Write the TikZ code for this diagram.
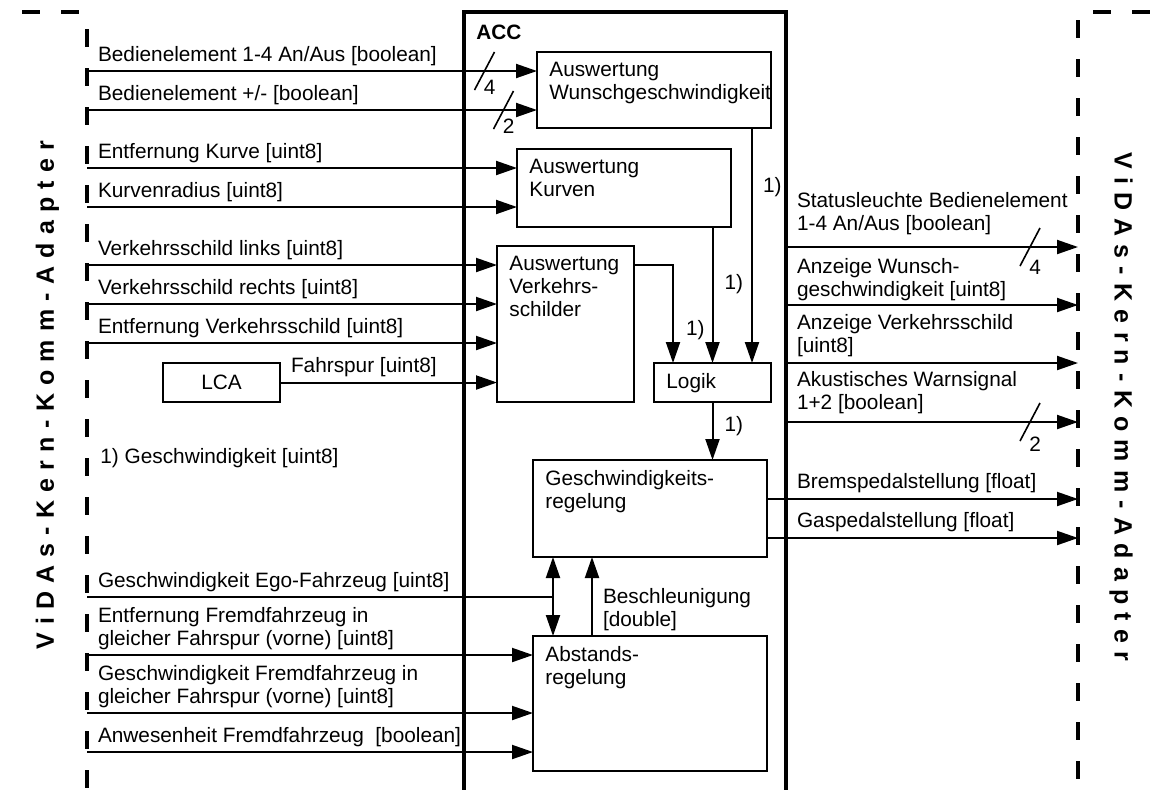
\documentclass[tikz,border=0pt]{standalone}
\usepackage{fontspec}
\setmainfont{Liberation Sans}
\newfontfamily\adapterfont[LetterSpace=33]{Liberation Sans}
\usetikzlibrary{positioning,arrows.meta}

\begin{document}
\begin{tikzpicture}[
    x=0.5pt, y=-0.5pt,
    font={\fontsize{10.4}{11.5}\selectfont},
    block/.style={draw,line width=1.1pt,anchor=north west,inner sep=0pt,outer sep=0pt},
    blocktxt/.style={anchor=north west,align=left,inner xsep=6pt,inner ysep=5pt},
    txt/.style={anchor=south west,align=left,inner sep=0pt,xshift=5pt,yshift=2.3pt},
    onelbl/.style={anchor=west,inner sep=0pt,xshift=5pt},
    slashnum/.style={anchor=south west,inner sep=0pt,xshift=4.25pt,yshift=-2.5pt},
    sig/.style={line width=1pt,-{Triangle[length=10.5pt,width=7pt]}},
    both/.style={line width=1pt,{Triangle[length=10.5pt,width=7pt]}-{Triangle[length=10.5pt,width=7pt]}},
    wire/.style={line width=1pt},
    bus/.style={line width=0.8pt},
    adapter/.style={line width=2pt,dash pattern=on 9pt off 10.5pt},
    adaptertxt/.style={font={\adapterfont\bfseries\fontsize{12.5}{14}\selectfont},inner sep=0pt},
]
    \useasboundingbox (0,0) rectangle (1156,789);

    % Adapter frames
    \draw[adapter] (22,12) -- (84,12);
    \draw[adapter] (87,29) -- (87,800);
    \draw[adapter] (1093,12) -- (1160,12);
    \draw[adapter] (1078,20) -- (1078,800);
    \node[adaptertxt,rotate=90]  (vidasleft)  at (47.5,395) {ViDAs-Kern-Komm-Adapter};
    \node[adaptertxt,rotate=-90] (vidasright) at (1121,407) {ViDAs-Kern-Komm-Adapter};

    % ACC frame
    \node[block,line width=2pt,minimum width=161pt,minimum height=400pt,
          label={[blocktxt,font={\fontsize{10.4}{11.5}\selectfont\bfseries},inner ysep=6.5pt]north west:ACC}] (acc) at (464,12) {};

    % Blocks
    \node[block,minimum width=117pt,minimum height=38pt,
          label={[blocktxt]north west:Auswertung\\Wunschgeschwindigkeit}] (wunsch) at (537,52) {};
    \node[block,minimum width=107pt,minimum height=39pt,
          label={[blocktxt]north west:Auswertung\\Kurven}] (kurven) at (517,149) {};
    \node[block,minimum width=68.5pt,minimum height=78pt,
          label={[blocktxt]north west:Auswertung\\Verkehrs-\\schilder}] (verkehr) at (497,246) {};
    \node[block,minimum width=58.5pt,minimum height=19.5pt,
          label={[blocktxt]north west:Logik}] (logik) at (654,363) {};
    \node[block,minimum width=117pt,minimum height=48.5pt,
          label={[blocktxt]north west:Geschwindigkeits-\\regelung}] (geschw) at (533,460) {};
    \node[block,minimum width=117pt,minimum height=67.5pt,
          label={[blocktxt]north west:Abstands-\\regelung}] (abstand) at (533,636) {};
    \node[block,minimum width=58.5pt,minimum height=19.5pt] (lca) at (163,363) {LCA};

    % Inputs
    \coordinate (in1)  at (87,71);
    \coordinate (in2)  at (87,110);
    \coordinate (in3)  at (87,168);
    \coordinate (in4)  at (87,207);
    \coordinate (in5)  at (87,265);
    \coordinate (in6)  at (87,304);
    \coordinate (in7)  at (87,343);
    \coordinate (in9)  at (87,597);
    \coordinate (in10) at (87,655);
    \coordinate (in11) at (87,713);
    \coordinate (in12) at (87,752);
    \coordinate (ego)  at ([xshift=10pt]geschw.south west);

    \draw[sig] (in1) -- (in1 -| wunsch.west) node[txt,pos=0] {Bedienelement 1-4 An/Aus [boolean]};
    \draw[sig] (in2) -- (in2 -| wunsch.west) node[txt,pos=0] {Bedienelement +/- [boolean]};
    \draw[sig] (in3) -- (in3 -| kurven.west) node[txt,pos=0] {Entfernung Kurve [uint8]};
    \draw[sig] (in4) -- (in4 -| kurven.west) node[txt,pos=0] {Kurvenradius [uint8]};
    \draw[sig] (in5) -- (in5 -| verkehr.west) node[txt,pos=0] {Verkehrsschild links [uint8]};
    \draw[sig] (in6) -- (in6 -| verkehr.west) node[txt,pos=0] {Verkehrsschild rechts [uint8]};
    \draw[sig] (in7) -- (in7 -| verkehr.west) node[txt,pos=0] {Entfernung Verkehrsschild [uint8]};
    \draw[sig] (lca.east) -- (lca.east -| verkehr.west) node[txt,pos=0] {Fahrspur [uint8]};
    \draw[wire] (in9) -- (in9 -| ego) node[txt,pos=0] {Geschwindigkeit Ego-Fahrzeug [uint8]};
    \draw[sig] (in10) -- (in10 -| abstand.west) node[txt,pos=0] {Entfernung Fremdfahrzeug in\\gleicher Fahrspur (vorne) [uint8]};
    \draw[sig] (in11) -- (in11 -| abstand.west) node[txt,pos=0] {Geschwindigkeit Fremdfahrzeug in\\gleicher Fahrspur (vorne) [uint8]};
    \draw[sig] (in12) -- (in12 -| abstand.west) node[txt,pos=0] {Anwesenheit Fremdfahrzeug~ [boolean]};

    % Bus markers
    \draw[bus] (484.5,71) ++(10,-19) -- ++(-20,38) node[slashnum] {4};
    \draw[bus] (503.5,110) ++(10,-19) -- ++(-20,38) node[slashnum] {2};
    \draw[bus] (1030,247) ++(10,-19) -- ++(-20,38) node[slashnum,yshift=-2pt] {4};
    \draw[bus] (1030,422) ++(10,-19) -- ++(-20,38) node[slashnum,yshift=-3pt] {2};

    % Internal connections
    \draw[sig] ([xshift=-9.5pt]wunsch.south east) -- ([xshift=-9.5pt]logik.north east) node[onelbl,pos=0.25] {1)};
    \draw[sig] (logik.north |- kurven.south) -- (logik.north) node[onelbl,pos=0.42,xshift=0.5pt] {1)};
    \draw[sig] ([yshift=-9.5pt]verkehr.north east) -| ([xshift=9.5pt]logik.north west) node[onelbl,pos=0.83,xshift=1pt] {1)};
    \draw[sig] (logik.south) -- (logik.south |- geschw.north) node[onelbl,pos=0.41,xshift=0.5pt] {1)};
    \draw[both] (ego) -- (ego |- abstand.north);
    \draw[sig] ([xshift=29.5pt]abstand.north west) -- ([xshift=29.5pt]geschw.south west) node[txt,pos=0] {Beschleunigung\\{[double]}};

    % Outputs
    \coordinate (out1) at (1078,247);
    \coordinate (out2) at (1078,305);
    \coordinate (out3) at (1078,363);
    \coordinate (out4) at (1078,422);
    \coordinate (out5) at (1078,499);
    \coordinate (out6) at (1078,538);

    \draw[sig] (out1 -| acc.east) -- (out1) node[txt,pos=0,yshift=3.5pt] {Statusleuchte Bedienelement\\1-4 An/Aus [boolean]};
    \draw[sig] (out2 -| acc.east) -- (out2) node[txt,pos=0,yshift=-0.5pt] {Anzeige Wunsch-\\geschwindigkeit [uint8]};
    \draw[sig] (out3 -| acc.east) -- (out3) node[txt,pos=0,yshift=0.5pt] {Anzeige Verkehrsschild\\{[uint8]}};
    \draw[sig] (out4 -| acc.east) -- (out4) node[txt,pos=0,yshift=1.5pt] {Akustisches Warnsignal\\1+2 [boolean]};
    \draw[sig] (out5 -| geschw.east) -- (out5 -| acc.east) node[txt,yshift=0.5pt] {Bremspedalstellung [float]} -- (out5);
    \draw[sig] (out6 -| geschw.east) -- (out6 -| acc.east) node[txt,yshift=0.5pt] {Gaspedalstellung [float]} -- (out6);

    % Note
    \node[anchor=base west,inner sep=0pt] (note) at (100,463) {1) Geschwindigkeit [uint8]};

\end{tikzpicture}
\end{document}
